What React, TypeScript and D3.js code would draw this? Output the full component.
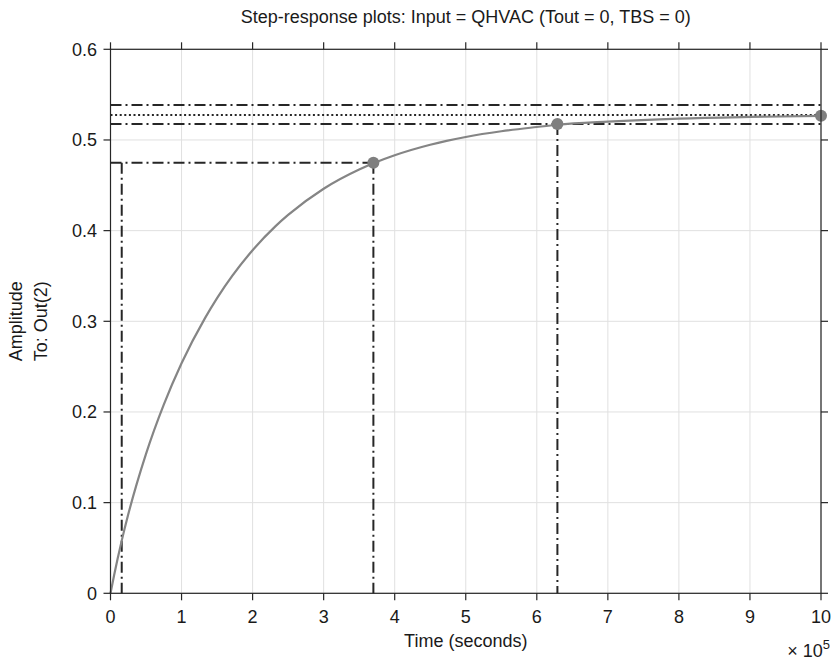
import React from "react";
import * as d3 from "d3";

// ---- data ----
const timeE5: number[] = [0, 0.05, 0.1, 0.158, 0.25, 0.5, 0.75, 1.0, 1.33, 1.5, 2.0, 2.32, 2.5, 3.0, 3.5, 3.7, 4.0, 4.5, 4.73, 5.0, 5.5, 6.0, 6.29, 7.0, 8.0, 9.0, 10.0];
const amplitude: number[] = [0, 0.0197, 0.0382, 0.0581, 0.0871, 0.1538, 0.2081, 0.2537, 0.3035, 0.3256, 0.3784, 0.4047, 0.4173, 0.4462, 0.4674, 0.4743, 0.4831, 0.4947, 0.499, 0.5033, 0.5096, 0.5143, 0.5168, 0.5203, 0.5236, 0.5254, 0.5266];

const markerT: number[] = [3.7, 6.29, 10.0];
const markerY: number[] = [0.4748, 0.5175, 0.5268];

const steadyState = 0.5275;
const settleUpper = 0.5385;
const settleLower = 0.5175;
const riseLevel = 0.4748;
const riseStartT = 0.158;
const riseEndT = 3.7;
const settleT = 6.29;

const xTicks: number[] = [0, 1, 2, 3, 4, 5, 6, 7, 8, 9, 10];
const yTicks: number[] = [0, 0.1, 0.2, 0.3, 0.4, 0.5, 0.6];

const title = "Step-response plots: Input = QHVAC (Tout = 0, TBS = 0)";
const xLabel = "Time (seconds)";
const yLabel1 = "Amplitude";
const yLabel2 = "To: Out(2)";

export default function App() {
  const W = 836, H = 663;
  const left = 110.5, right = 821, top = 49.3, bottom = 593.3;
  const x = d3.scaleLinear().domain([0, 10]).range([left, right]);
  const y = d3.scaleLinear().domain([0, 0.6]).range([bottom, top]);
  const line = d3.line<number>().x((_, i) => x(timeE5[i])).y((d) => y(d)).curve(d3.curveMonotoneX);
  const font = "'Liberation Sans', Arial, Helvetica, sans-serif";
  const dark = "#262626";
  const dashDot = "11,4,2,4";
  const tickLen = 7;
  const fs = 18;

  return (
    <svg width={W} height={H} style={{ position: "absolute", left: 0, top: 0, background: "#fff" }} fontFamily={font}>
      <rect x={0} y={0} width={W} height={H} fill="#fff" />
      {/* grid */}
      {xTicks.map((t) => (
        <line key={"gx" + t} x1={x(t)} x2={x(t)} y1={top} y2={bottom} stroke="#e0e0e0" strokeWidth={1} />
      ))}
      {yTicks.map((t) => (
        <line key={"gy" + t} x1={left} x2={right} y1={y(t)} y2={y(t)} stroke="#e0e0e0" strokeWidth={1} />
      ))}
      {/* characteristic lines */}
      <line x1={left} x2={right} y1={y(settleUpper)} y2={y(settleUpper)} stroke={dark} strokeWidth={2} strokeDasharray={dashDot} />
      <line x1={left} x2={right} y1={y(steadyState)} y2={y(steadyState)} stroke={dark} strokeWidth={2} strokeDasharray="2,2.6" />
      <line x1={left} x2={right} y1={y(settleLower)} y2={y(settleLower)} stroke={dark} strokeWidth={2} strokeDasharray={dashDot} />
      <line x1={left} x2={x(riseEndT)} y1={y(riseLevel)} y2={y(riseLevel)} stroke={dark} strokeWidth={2} strokeDasharray={dashDot} />
      <line x1={x(riseStartT)} x2={x(riseStartT)} y1={y(riseLevel)} y2={bottom} stroke={dark} strokeWidth={2} strokeDasharray={dashDot} />
      <line x1={x(riseEndT)} x2={x(riseEndT)} y1={y(riseLevel)} y2={bottom} stroke={dark} strokeWidth={2} strokeDasharray={dashDot} />
      <line x1={x(settleT)} x2={x(settleT)} y1={y(settleLower)} y2={bottom} stroke={dark} strokeWidth={2} strokeDasharray={dashDot} />
      {/* response curve */}
      <path d={line(amplitude) || ""} fill="none" stroke="#858585" strokeWidth={2.2} />
      {markerT.map((t, i) => (
        <circle key={"m" + i} cx={x(t)} cy={y(markerY[i])} r={6} fill="#7f7f7f" />
      ))}
      {/* axes box */}
      <rect x={left} y={top} width={right - left} height={bottom - top} fill="none" stroke={dark} strokeWidth={1.2} />
      {xTicks.map((t) => (
        <g key={"tx" + t}>
          <line x1={x(t)} x2={x(t)} y1={bottom} y2={bottom + tickLen} stroke={dark} strokeWidth={1.2} />
          <line x1={x(t)} x2={x(t)} y1={top} y2={top - tickLen} stroke={dark} strokeWidth={1.2} />
          <text x={x(t)} y={bottom + 30} textAnchor="middle" fontSize={fs} fill="#1a1a1a">{t}</text>
        </g>
      ))}
      {yTicks.map((t) => (
        <g key={"ty" + t}>
          <line x1={left} x2={left - tickLen} y1={y(t)} y2={y(t)} stroke={dark} strokeWidth={1.2} />
          <line x1={right} x2={right + tickLen} y1={y(t)} y2={y(t)} stroke={dark} strokeWidth={1.2} />
          <text x={97} y={y(t)} dy="0.35em" textAnchor="end" fontSize={fs} fill="#1a1a1a">{t === 0 ? "0" : t.toFixed(1)}</text>
        </g>
      ))}
      {/* labels */}
      <text x={(left + right) / 2} y={23} textAnchor="middle" fontSize={fs} fill="#1a1a1a">{title}</text>
      <text x={(left + right) / 2} y={647} textAnchor="middle" fontSize={fs} fill="#1a1a1a">{xLabel}</text>
      <text x={830} y={657} textAnchor="end" fontSize={fs} fill="#1a1a1a">
        × 10<tspan fontSize={13} dy={-8}>5</tspan>
      </text>
      <g transform={`translate(22, ${(top + bottom) / 2}) rotate(-90)`}>
        <text x={0} y={0} textAnchor="middle" fontSize={fs} fill="#1a1a1a">{yLabel1}</text>
        <text x={0} y={25} textAnchor="middle" fontSize={fs} fill="#1a1a1a">{yLabel2}</text>
      </g>
    </svg>
  );
}
